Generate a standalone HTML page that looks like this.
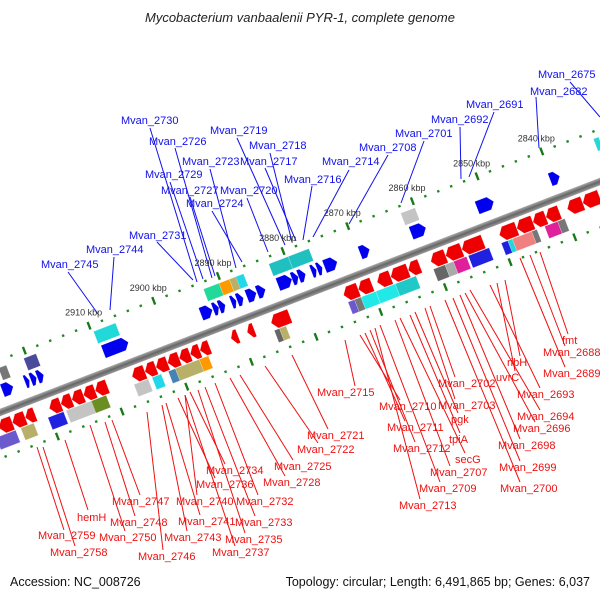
<!DOCTYPE html>
<html><head><meta charset="utf-8"><style>
html,body{margin:0;padding:0;background:#fff;width:600px;height:600px;overflow:hidden}
svg{display:block;font-family:"Liberation Sans",sans-serif}
</style></head><body>
<svg id="map" width="600" height="600" viewBox="0 0 600 600" xmlns="http://www.w3.org/2000/svg">
<defs>
<linearGradient id="bb" x1="0" y1="0" x2="0" y2="1"><stop offset="0" stop-color="#aaa"/><stop offset="0.5" stop-color="#666"/><stop offset="1" stop-color="#999"/></linearGradient>
</defs>
<text x="300" y="22" text-anchor="middle" font-size="13" font-style="italic" fill="#222">Mycobacterium vanbaalenii PYR-1, complete genome</text>
<g id="lines"></g>
<g id="track" transform="translate(300,297) rotate(-21.06)"></g>
<g id="labels"></g>
<text x="10" y="586" font-size="12.5" fill="#111">Accession: NC_008726</text>
<text x="590" y="586" text-anchor="end" font-size="12.5" fill="#111">Topology: circular; Length: 6,491,865 bp; Genes: 6,037</text>
</svg>
<script>
// scale: kbp ticks
var majorTicks=[2910,2900,2890,2880,2870,2860,2850,2840];
var tickLabels=["2910 kbp","2900 kbp","2890 kbp","2880 kbp","2870 kbp","2860 kbp","2850 kbp","2840 kbp"];
// forward genes [start,end] kbp
var fwdGenes=[[2923.4,2925],[2920.9,2921.5],[2919.8,2920.6],[2918.7,2919.6],[2905.6,2909.4],[2892.6,2894.3],[2891.6,2892.4],[2890.6,2891.5],[2888.9,2889.6],[2887.8,2888.7],[2885.8,2887.2],[2884.4,2885.6],[2880.3,2882.4],[2879.3,2880.2],[2878.2,2879.2],[2876.5,2877.2],[2875.6,2876.3],[2873.3,2875.2],[2868.3,2869.7],[2859.6,2861.8],[2849.1,2851.6],[2838.9,2840.3]];
// reverse genes
var revGenes=[[2925.4,2927.4],[2923.4,2925.3],[2921.9,2923.3],[2917.9,2919.6],[2916.2,2917.8],[2914.4,2916.1],[2912.6,2914.3],[2910.7,2912.5],[2904.9,2906.8],[2903.2,2904.8],[2901.4,2903.1],[2899.6,2901.3],[2897.9,2899.5],[2896.4,2897.8],[2894.9,2896.3],[2890.5,2891.5],[2888,2889],[2882.5,2885.3],[2871.9,2874.1],[2869.8,2871.8],[2866.9,2868.9],[2864.2,2866.8],[2862.4,2864.1],[2858.4,2860.6],[2855.9,2858.3],[2852.6,2855.8],[2847.4,2850],[2844.9,2847.3],[2842.9,2844.8],[2840.8,2842.8],[2837.2,2839.5],[2834.6,2837.1]];
// colour boxes
var fwdBoxes=[[2923.2,2924.4,"#777"],[2918.6,2920.5,"#4a4a9a"],[2906.3,2909.7,"#22d8d8"],[2890.3,2892.7,"#22d89a"],[2888.7,2890.3,"#ff9900"],[2887.5,2888.7,"#b8b068"],[2886.5,2887.7,"#22d8e8"],[2879.6,2882.6,"#20c0c0"],[2876.4,2879.6,"#20c0c0"],[2860,2862.2,"#c4c4c4"],[2831.6,2832.4,"#22d8d8"]];
var revBoxes=[[2925.3,2928.3,"#6a5acd"],[2922.5,2924.5,"#b8b068"],[2917.9,2920.3,"#2020e0"],[2913.3,2917.5,"#c4c4c4"],[2911.3,2913.6,"#6b8e23"],[2904.8,2907,"#c4c4c4"],[2902.8,2904.2,"#22d8e8"],[2900.6,2901.7,"#4682b4"],[2896.9,2900.6,"#b8b068"],[2895.5,2896.9,"#ff9900"],[2884.5,2885.3,"#666"],[2883.5,2884.5,"#b8b068"],[2872.9,2873.9,"#6a5acd"],[2871.9,2872.9,"#777"],[2869.6,2871.9,"#22e8e8"],[2866.6,2869.6,"#22e8e8"],[2863.4,2866.6,"#20c8c8"],[2858.9,2860.7,"#666"],[2857.6,2858.9,"#aaa"],[2855.6,2857.6,"#e0209a"],[2852.1,2855.3,"#2020e0"],[2849.2,2850.2,"#2020e0"],[2848.5,2849.2,"#22d8d8"],[2845.5,2848.5,"#f08080"],[2844.7,2845.5,"#777"],[2841.5,2843.5,"#e0209a"],[2840.4,2841.5,"#777"]];
// top labels: name, text x, baseline y, line start, line end
var topNames=["Mvan_2675","Mvan_2682","Mvan_2691","Mvan_2692","Mvan_2701","Mvan_2708","Mvan_2714","Mvan_2716","Mvan_2717","Mvan_2718","Mvan_2719","Mvan_2720","Mvan_2723","Mvan_2724","Mvan_2726","Mvan_2727","Mvan_2729","Mvan_2730","Mvan_2731","Mvan_2744","Mvan_2745"];
var topPos=[[538,78,570,82,600,117],[530,95,536,97,539,148],[466,108,494,112,469,177],[431,123,460,127,461,179],[395,137,424,141,401,203],[359,151,388,155,349,224],[322,165,349,170,313,237],[284,183,312,186,303,240],[240,165,265,168,296,241],[249,149,270,153,292,242],[210,134,237,138,285,245],[220,194,247,198,268,252],[182,165,210,169,236,268],[186,207,212,211,242,262],[149,145,175,148,212,278],[161,194,190,197,215,276],[145,178,170,182,203,279],[121,124,150,128,197,282],[129,239,157,242,193,280],[86,253,114,257,110,310],[41,268,68,272,98,314]];
var botNames=["fmt","Mvan_2688","Mvan_2689","ribH","uvrC","Mvan_2693","Mvan_2694","Mvan_2696","Mvan_2698","Mvan_2699","Mvan_2700","Mvan_2702","Mvan_2703","pgk","tpiA","secG","Mvan_2707","Mvan_2709","Mvan_2713","Mvan_2710","Mvan_2711","Mvan_2712","Mvan_2715","Mvan_2721","Mvan_2722","Mvan_2725","Mvan_2728","Mvan_2732","Mvan_2733","Mvan_2735","Mvan_2737","Mvan_2734","Mvan_2736","Mvan_2740","Mvan_2741","Mvan_2743","Mvan_2746","Mvan_2747","Mvan_2748","Mvan_2750","hemH","Mvan_2759","Mvan_2758"];
var botPos=[[562,344,540,252,568,334],[543,356,530,255,565,346],[543,377,520,258,565,367],[507,366,505,280,520,356],[496,381,497,283,515,371],[517,398,490,285,540,388],[517,420,470,290,540,410],[513,432,465,293,535,422],[498,449,460,295,520,439],[499,471,453,298,520,461],[500,492,445,300,520,482],[438,387,430,306,455,377],[438,409,425,308,455,399],[451,423,415,312,458,413],[449,443,410,315,460,433],[455,463,400,318,465,453],[430,476,395,320,450,466],[419,492,380,325,440,482],[399,509,375,328,420,499],[379,410,360,335,400,400],[387,431,365,333,405,421],[393,452,370,330,415,442],[317,396,345,340,355,386],[307,439,292,355,328,429],[297,453,265,366,318,443],[274,470,240,375,293,460],[263,486,230,378,285,476],[236,505,215,383,258,495],[235,526,205,387,255,516],[225,543,198,390,245,533],[212,556,185,395,235,546],[206,474,190,392,225,464],[196,488,178,398,215,478],[176,505,185,395,197,495],[178,525,166,403,200,515],[164,541,162,405,187,531],[138,560,147,412,163,550],[112,505,112,420,140,495],[110,526,105,422,135,516],[99,541,90,425,125,531],[77,521,65,440,88,510],[38,539,37,447,64,530],[50,556,43,447,75,546]];

var NS="http://www.w3.org/2000/svg";
var track=document.getElementById('track');
var linesG=document.getElementById('lines');
var labelsG=document.getElementById('labels');
function U(k){return (2880.1-k)*6.93;}
function mk(tag,attrs,parent){var e=document.createElementNS(NS,tag);for(var a in attrs)e.setAttribute(a,attrs[a]);parent.appendChild(e);return e;}

var bb=mk('rect',{x:-420,y:-3.5,width:840,height:7,fill:'url(#bb)'},track);



for(var k=2790;k<=2960;k+=2){
  var isMaj=(k%10===0);
  [-49,43].forEach(function(v){
    var t=mk('rect',{x:U(k)-1.2,y:isMaj?v-4:v-1.2,width:2.4,height:isMaj?8:2.4,fill:isMaj?'#1a7a1a':'#228822'},track);
    
    
  });
}
majorTicks.forEach(function(k,i){
  var u=U(k),v=-64;
  var c=Math.cos(21.06*Math.PI/180),s=Math.sin(21.06*Math.PI/180);
  var x=300+u*c+v*s, y=297-u*s+v*c;
  var t=mk('text',{x:x,y:y+4,'font-size':9,fill:'#333','text-anchor':'middle'},labelsG);
  t.textContent=tickLabels[i];
  
  
});

function arrow(a,b,v1,v2,dir,fill,name){
  var u1=U(b),u2=U(a);
  var len=u2-u1, hd=Math.min(5,len*0.6), m=(v1+v2)/2;
  var pts;
  if(dir>0){pts=[[u1,v1],[u2-hd,v1],[u2,m],[u2-hd,v2],[u1,v2]];}
  else{pts=[[u2,v1],[u1+hd,v1],[u1,m],[u1+hd,v2],[u2,v2]];}
  var p=mk('polygon',{points:pts.map(function(q){return q[0].toFixed(1)+','+q[1];}).join(' '),fill:fill,stroke:fill,'stroke-width':0.3},track);
  
  
}
fwdGenes.forEach(function(g){arrow(g[0],g[1],-26,-13,1,'#0000ee','forward-gene');});
revGenes.forEach(function(g){arrow(g[0],g[1],7,21,-1,'#ee0000','reverse-gene');});
function box(g,v1,v2,name){
  var r=mk('rect',{x:U(g[1]),y:v1,width:U(g[0])-U(g[1]),height:v2-v1,fill:g[2],stroke:'#fff','stroke-width':0.4,'stroke-opacity':0.5},track);
  
  
}
fwdBoxes.forEach(function(g){box(g,-42,-29,'forward-cog-box');});
revBoxes.forEach(function(g){box(g,22,35,'reverse-cog-box');});

function labels(names,pos,color,name){
  names.forEach(function(n,i){
    var p=pos[i];
    var l=mk('line',{x1:p[2],y1:p[3],x2:p[4],y2:p[5],stroke:color,'stroke-width':1},linesG);
    
    
    var t=mk('text',{x:p[0],y:p[1],'font-size':11,fill:color},labelsG);
    t.textContent=n;
    
    
  });
}
labels(topNames,topPos,'#1010ee','forward-gene-label');
labels(botNames,botPos,'#ee1010','reverse-gene-label');
</script>
</body></html>
